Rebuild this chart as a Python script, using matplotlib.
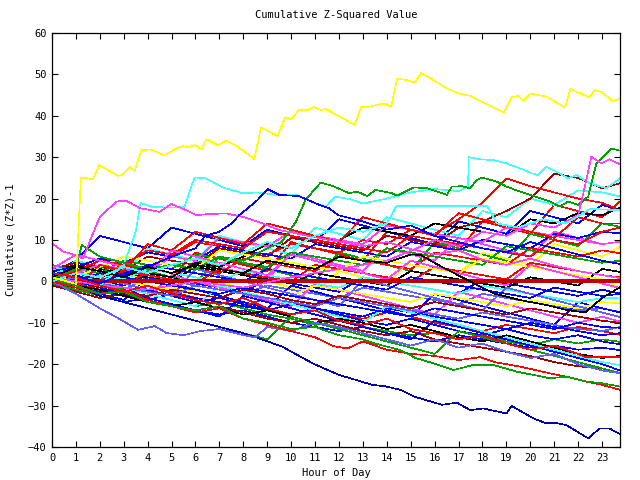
import matplotlib
matplotlib.use("Agg")
import matplotlib.pyplot as plt
import numpy as np

# hourly sample positions for the bulk of the runs
hours = [0, 1, 2, 3, 4, 5, 6, 7, 8, 9, 10, 11, 12, 13, 14, 15, 16, 17, 18, 19,
         20, 21, 22, 23, 23.75]

yellow_top = [(0, 1.0), (0.5, 0.2), (1.0, -0.6), (1.21, 25.1), (1.72, 24.7), (1.97, 28.1),
              (2.76, 25.5), (2.94, 25.7), (3.25, 27.6), (3.46, 26.7), (3.74, 31.7), (4.08, 31.9),
              (4.71, 30.5), (5.2, 32.1), (5.47, 32.7), (5.65, 32.4), (6.0, 32.9), (6.24, 31.9),
              (6.45, 34.3), (6.93, 32.9), (7.28, 34.0), (7.7, 32.8), (8.46, 29.6), (8.74, 37.2),
              (9.43, 35.1), (9.75, 39.6), (10.0, 39.2), (10.33, 41.4), (10.68, 41.4), (10.96, 42.1),
              (11.25, 41.4), (11.46, 41.6), (11.9, 40.2), (12.65, 37.8), (12.93, 42.2), (13.2, 42.1),
              (13.88, 43.0), (14.18, 42.2), (14.43, 48.9), (14.78, 48.7), (15.17, 48.0), (15.43, 50.3),
              (15.96, 48.6), (16.51, 46.6), (17.0, 45.4), (17.5, 44.8), (17.88, 43.6), (18.32, 42.4),
              (18.9, 40.8), (19.22, 44.5), (19.5, 44.8), (19.71, 43.6), (19.99, 45.4), (20.68, 44.6),
              (21.45, 42.0), (21.68, 46.5), (22.24, 45.0), (22.45, 44.4), (22.69, 46.2), (23.0, 45.7),
              (23.43, 43.6), (23.75, 44.2)]
blue_bottom = [(0, 0.5), (1, -1), (2, -3.5), (3, -5), (4, -6.5), (5, -8), (6, -9.5), (7, -11),
               (8, -12.5), (8.53, -13.5), (9.64, -15.8), (10.9, -19.8), (11.45, -21.2), (12.0, -22.6),
               (12.42, -23.3), (13.39, -25.0), (13.9, -25.3), (14.57, -26.2), (15.13, -27.8),
               (16.3, -29.8), (16.93, -29.3), (17.49, -31.1), (18.04, -30.7), (19.0, -31.9),
               (19.22, -30.1), (20.13, -33.1), (20.68, -34.3), (21.0, -34.1), (21.5, -34.7),
               (22.42, -37.9), (22.9, -35.5), (23.3, -35.5), (23.75, -36.9)]
light_blue_low = [(0, 0), (1, -3), (2, -6.5), (2.8, -9), (3.6, -11.7), (4.3, -10.8), (4.8, -12.5),
                  (5.5, -13), (6.2, -12), (7, -11.5), (8, -13), (8.5, -13.5), (9, -11), (10, -12),
                  (11, -10), (12, -11), (13, -12.5), (14, -14), (15, -15.5), (16, -14), (17, -16),
                  (18, -15), (19, -17), (20, -18.5), (21, -17.5), (22, -20), (23, -21.5), (23.75, -22.2)]
cyan_upper = [(0, 1), (1, 0), (2, -1), (3, 4), (3.5, 12), (3.7, 18.9), (4.2, 18.0), (5.0, 17.8),
              (5.54, 18.0), (5.96, 25.1), (6.44, 24.9), (7.14, 22.7), (7.97, 21.3), (8.6, 21.5),
              (9.36, 20.9), (10.2, 20.9), (10.68, 19.7), (11.0, 18.9), (11.46, 18.1), (11.86, 20.5),
              (12.5, 19.8), (13, 18.8), (14, 20.0), (15, 21.5), (16, 22.3), (17, 21.8), (17.4, 22.9),
              (17.42, 30.0), (17.9, 29.5), (18.46, 29.3), (19.0, 28.5), (19.57, 27.3), (20.06, 26.1),
              (20.33, 25.7), (20.68, 27.7), (21.1, 26.5), (21.58, 24.9), (21.93, 25.7), (22.49, 23.7),
              (23.18, 22.5), (23.75, 24.9)]
green_upper = [(0, 0.5), (1.0, 3), (1.24, 8.8), (2, 6), (3, 4.5), (4, 3), (5, 4), (6, 3), (7, 6),
               (8, 5), (9, 8), (9.6, 9.5), (10.2, 14.4), (10.6, 19.7), (11.24, 23.9), (11.8, 22.9),
               (12.42, 21.3), (12.76, 21.7), (13.18, 20.6), (13.53, 22.1), (14.22, 21.3), (14.43, 20.7),
               (15.13, 22.7), (15.68, 22.5), (16.1, 21.7), (16.51, 20.9), (16.72, 22.9), (17.14, 23.0),
               (17.49, 22.5), (17.76, 24.5), (17.97, 25.1), (18.6, 24.1), (19.0, 22.9), (19.57, 21.7),
               (20.4, 20.1), (20.82, 19.3), (21.24, 18.1), (21.58, 19.3), (22.0, 18.5), (22.42, 20.5),
               (22.76, 28.5), (23.39, 32.1), (23.75, 31.6)]
magenta_left = [(0, 9.2), (0.47, 7.2), (0.96, 6.4), (1.3, 5.5), (1.6, 10), (2.0, 15.6), (2.7, 19.3),
                (3.1, 19.5), (3.67, 17.7), (4.5, 16.8), (4.99, 18.7), (5.61, 17.2), (6.03, 16.0),
                (6.58, 16.3), (7.28, 16.4), (7.97, 15.6), (8.8, 14.0), (9.5, 12.4), (10.05, 11.8),
                (10.89, 10.8), (11.58, 10.0), (12, 9.6), (13, 8.5), (14, 9.5), (15, 7.8), (16, 6.5),
                (17, 7.5), (18, 5.2), (19, 4.0), (20, 5.5), (21, 3.8), (22, 2.5), (23, 1.5), (23.75, 0.8)]
magenta_right = [(0, 1), (2, -1), (4, -2), (6, 0), (8, -1.5), (10, 1), (12, 3), (14, 5), (15.26, 8),
                 (16, 10), (17, 8.5), (18, 12), (19, 11), (20, 14), (21, 13), (22, 16), (22.28, 22.9),
                 (22.55, 30.1), (22.97, 28.5), (23.3, 29.5), (23.75, 28.3)]
blue_upper = [(0, 0.5), (1, 1.5), (2, -0.5), (3, 2), (4, 3.5), (5, 6), (6, 8), (6.4, 11), (7, 12),
              (7.5, 14), (7.83, 16), (8.25, 18.0), (8.6, 19.7), (9.01, 22.3), (9.5, 20.9), (10.33, 20.6),
              (11.17, 18.5), (11.58, 17.7), (11.97, 16.0), (13, 14.5), (14, 12.5), (15, 13.5), (16, 11),
              (17, 9.5), (18, 8), (19, 7), (20, 9.5), (21, 8), (22, 6.5), (23, 5), (23.75, 4.2)]
zero_run = [(0, 0), (23.75, 0)]
red_bottom = [(0, 0), (1, -1.5), (2, -3), (3, -2), (4, -4.5), (5, -6), (6, -7.5), (7, -6.5), (8, -9),
              (9, -10.5), (10, -12), (11, -13.5), (11.8, -15.7), (12.35, -16.2), (13, -14.5), (14, -16.5),
              (15, -17.5), (16, -18), (17, -19), (17.9, -18.3), (18.5, -19.5), (19.5, -20.5),
              (20.82, -22.2), (21.5, -23), (22.35, -24.2), (23, -25), (23.75, -26.2)]
green_lower = [(0, 0.5), (1, -1), (2, -3), (3, -2.5), (4, -5), (5, -6), (6, -7), (7, -6), (8, -9),
               (9, -10), (10, -11.5), (11, -11), (12, -13), (13, -14), (13.5, -15), (14.57, -16.6),
               (15.2, -18.5), (15.96, -19.8), (16.8, -21.4), (17.6, -20.2), (18.46, -20.2), (19.43, -21.8),
               (20.13, -22.6), (20.82, -23.4), (21.5, -23.0), (22.35, -24.2), (23.0, -24.6), (23.75, -25.4)]
black_run = [(0, 1), (1, 3.5), (2, 2.5), (3, 1), (4, 3.5), (5, 2), (6, 4), (7, 3), (8, 2), (9, 5),
             (10, 4), (11, 3), (12, 6), (13, 5), (14, 4.5), (15, 6.5), (15.4, 6.4), (16.3, 3.5),
             (17.35, 0.4), (18.46, -2.9), (19.57, -4.5), (20.68, -5.7), (21.5, -6.9), (22.3, -7.5),
             (23, -4), (23.75, -1.4)]
cyan_flat = [(0, 0), (1, 2), (2, 1), (3, 3.5), (4, 2), (5, 4), (6, 5.5), (7, 4), (8, 7), (9, 9.5),
             (10, 8), (11, 11), (12, 13), (13, 12), (14, 14), (14.4, 18.2), (18.2, 18.2), (18.6, 14),
             (19.5, 13), (20.5, 15), (21.5, 14), (22.5, 17.5), (23.75, 17.2)]
red_flat_end = [(0, 2), (1, 1), (2, -1), (3, -2.5), (4, -1), (5, -3), (6, -4.5), (7, -5.5), (8, -4),
                (9, -6.5), (10, -8), (11, -7), (12, -9.5), (13, -10.5), (14, -9), (15, -11.5),
                (16, -12.5), (17, -14), (18, -13), (19, -15), (20, -16.5), (21, -15.5), (22, -17.5),
                (22.3, -18.3), (23.75, -18.3)]

# the rest of the runs, one value per hour
bulk_runs = [
    [1.5, 0.0, 5.5, 4.0, 2.5, 1.0, 7.0, 5.5, 4.0, 2.5, 9.5, 8.0, 6.5, 5.0, 12.0, 10.5, 9.0, 7.5, 14.5, 13.0, 11.5, 18.5, 17.0, 15.5, 19.3],
    [0.5, -1.0, -2.5, 4.0, 2.5, 1.0, -0.5, 6.0, 4.5, 3.0, 1.5, 0.0, 7.0, 5.5, 4.0, 2.5, 9.5, 8.0, 6.5, 5.0, 11.5, 10.0, 8.5, 14.0, 13.2],
    [2.0, 5.0, 11.0, 9.5, 8.0, 13.0, 11.5, 10.0, 8.5, 12.5, 11.0, 9.5, 15.0, 13.5, 12.0, 10.5, 9.0, 14.5, 13.0, 11.5, 17.0, 15.5, 14.0, 18.5, 17.2],
    [0.0, -1.5, -3.0, 3.0, 1.5, 0.0, 5.0, 3.5, 2.0, 0.5, 7.0, 5.5, 4.0, 2.5, 8.0, 6.5, 5.0, 10.5, 9.0, 7.5, 6.0, 12.0, 10.5, 9.0, 9.6],
    [1.0, 5.0, 3.5, 2.0, 8.0, 6.5, 5.0, 11.0, 9.5, 8.0, 6.5, 13.0, 11.5, 10.0, 15.5, 14.0, 12.5, 11.0, 17.0, 15.5, 20.0, 18.5, 22.0, 21.5, 20.5],
    [0.5, -1.0, -2.5, 2.0, 0.5, -1.0, -2.5, 3.0, 1.5, 0.0, -1.5, -3.0, 2.5, 1.0, -0.5, 5.0, 3.5, 2.0, 7.0, 5.5, 4.0, 9.0, 7.5, 6.0, 8.4],
    [2.0, 1.0, 0.0, -1.0, 1.5, 0.5, -0.5, -1.5, -2.5, 0.5, -0.5, -1.5, -2.5, 1.0, 0.0, -1.0, -2.0, -3.0, 0.5, -0.5, -1.5, -2.5, -3.5, -2.0, -2.9],
    [3.0, 4.5, 3.5, 2.5, 6.0, 5.0, 4.0, 8.0, 7.0, 6.0, 10.5, 9.5, 8.5, 7.5, 11.0, 10.0, 9.0, 13.0, 14.5, 17.0, 20.0, 26.0, 25.0, 22.5, 23.7],
    [0.0, 2.5, 1.5, 4.0, 3.0, 6.0, 9.5, 8.5, 7.5, 6.5, 9.0, 8.0, 7.0, 10.0, 9.0, 12.5, 11.5, 15.0, 19.0, 24.9, 23.0, 21.5, 20.0, 19.0, 17.2],
    [1.0, 0.0, -1.0, -2.0, 1.0, 0.0, -1.0, -2.0, -3.0, -1.0, -2.0, -3.0, -4.0, -1.5, -2.5, -3.5, -4.5, -5.5, -3.0, -4.0, -5.0, -6.0, -7.0, -6.5, -7.4],
    [2.5, 4.0, 3.0, 2.0, 1.0, 0.0, 3.5, 2.5, 1.5, 0.5, -0.5, 2.0, 1.0, 0.0, -1.0, 2.5, 1.5, 0.5, -0.5, -1.5, 1.0, 0.0, -1.0, 3.0, 2.3],
    [0.0, -1.5, -3.0, -4.5, 1.0, -0.5, -2.0, -3.5, -5.0, -6.5, -1.0, -2.5, -4.0, -5.5, -7.0, -8.5, -3.0, -4.5, -6.0, -7.5, -9.0, -10.5, -5.0, -6.5, -7.5],
    [1.0, -0.5, -2.0, -3.5, -1.0, -2.5, -4.0, -5.0, -6.0, -4.0, -5.0, -6.5, -8.0, -9.0, -7.5, -8.5, -10.0, -11.0, -12.0, -10.5, -11.5, -12.5, -11.0, -12.0, -12.9],
    [0.5, -1.0, -2.5, -1.5, -3.0, -4.5, -6.0, -5.0, -6.5, -8.0, -9.0, -10.5, -9.5, -11.0, -12.0, -13.0, -12.5, -14.0, -13.0, -14.5, -15.5, -14.0, -15.0, -14.0, -14.6],
    [-0.5, -2.0, -3.5, -5.0, -4.0, -5.5, -7.0, -8.0, -7.0, -8.5, -10.0, -11.0, -12.0, -11.0, -12.5, -13.5, -14.5, -13.0, -14.0, -15.0, -16.0, -15.5, -16.5, -16.0, -16.6],
    [2.0, 0.5, -1.0, -2.5, -4.0, 1.5, 0.0, -1.5, -3.0, -4.5, -6.0, -0.5, -2.0, -3.5, -5.0, -6.5, -8.0, -2.5, -4.0, -5.5, -7.0, -8.5, -10.0, -8.5, -9.7],
    [3.5, 2.5, 1.5, 0.5, 3.0, 2.0, 1.0, 0.0, 2.5, 1.5, 0.5, -0.5, -1.5, 1.0, 0.0, -1.0, -2.0, -3.0, -1.0, -2.0, -3.0, -4.0, -5.0, -4.0, -4.1],
    [0.0, 2.0, 1.0, 0.0, -1.0, -2.0, 0.5, -0.5, -1.5, -2.5, -3.5, -1.0, -2.0, -3.0, -4.0, -5.0, -3.0, -4.0, -5.0, -6.0, -4.5, -5.5, -6.5, -5.0, -5.3],
    [1.5, 3.5, 5.5, 4.5, 7.0, 6.0, 5.0, 8.5, 7.5, 6.5, 5.5, 9.0, 8.0, 7.0, 6.0, 9.5, 8.5, 7.5, 10.0, 9.0, 8.0, 11.5, 10.5, 12.0, 11.6],
    [-1.0, -2.5, -4.0, -3.0, -4.5, -6.0, -7.0, -6.0, -7.5, -9.0, -10.0, -9.0, -10.5, -12.0, -13.0, -12.0, -14.0, -15.0, -16.0, -17.0, -18.0, -19.5, -20.5, -21.0, -22.2],
    [0.5, 1.5, 0.5, -0.5, 2.0, 4.0, 3.0, 2.0, 5.5, 4.5, 3.5, 2.5, 6.0, 5.0, 4.0, 3.0, 7.0, 6.0, 5.0, 4.0, 8.0, 7.0, 6.0, 7.5, 6.8],
    [4.0, 2.5, 1.0, -0.5, -2.0, -3.5, 3.0, 1.5, 0.0, -1.5, -3.0, -4.5, -6.0, 0.5, -1.0, -2.5, -4.0, -5.5, -7.0, -1.5, -3.0, -4.5, -6.0, -7.5, -8.6],
    [0.0, -1.0, 1.0, 3.0, 2.0, 1.0, 4.5, 3.5, 6.0, 9.0, 8.0, 11.0, 10.0, 13.0, 12.0, 11.0, 14.0, 13.0, 12.0, 11.0, 15.0, 14.0, 16.5, 16.0, 17.8],
    [1.0, 0.0, -1.5, -3.0, -2.0, -3.5, -5.0, -4.0, -5.5, -7.0, -8.0, -6.5, -8.0, -9.5, -10.5, -9.0, -10.5, -12.0, -13.0, -11.5, -13.0, -14.0, -13.0, -14.5, -15.2],
    [2.0, 1.0, 0.0, 2.5, 1.5, 0.5, -0.5, 3.0, 2.0, 1.0, 0.0, 4.0, 3.0, 2.0, 1.0, 0.0, 3.5, 2.5, 1.5, 0.5, 4.5, 3.5, 2.5, 1.5, 1.0],
    [0.5, 3.0, 2.0, 5.0, 4.0, 3.0, 6.5, 5.5, 4.5, 3.5, 7.0, 6.0, 5.0, 4.0, 8.0, 7.0, 6.0, 5.0, 4.0, 8.5, 7.5, 6.5, 5.5, 4.5, 5.0],
    [-0.5, -1.5, -2.5, -3.5, -4.5, -3.0, -4.0, -5.0, -6.0, -7.0, -5.5, -6.5, -7.5, -8.5, -6.5, -7.5, -8.5, -9.5, -10.5, -11.5, -10.0, -11.0, -12.0, -13.0, -12.5],
    [1.0, 2.0, 4.0, 3.0, 2.0, 6.0, 5.0, 10.5, 9.5, 8.5, 12.0, 11.0, 10.0, 9.0, 13.5, 12.5, 11.5, 10.5, 9.5, 13.0, 12.0, 11.0, 10.0, 9.0, 9.6],
    [3.0, 1.5, 0.0, -1.5, -3.0, -4.5, -6.0, -1.0, -2.5, -4.0, -5.5, -7.0, -8.5, -10.0, -6.0, -7.5, -9.0, -10.5, -12.0, -13.5, -15.0, -16.5, -18.0, -19.5, -20.2],
    [0.0, 1.0, 3.5, 6.0, 5.0, 4.0, 3.0, 7.5, 6.5, 5.5, 4.5, 3.5, 2.5, 6.0, 5.0, 4.0, 3.0, 2.0, 5.5, 4.5, 3.5, 2.5, 1.5, 0.5, -1.4],
    [2.0, 0.5, -1.0, -2.5, -4.0, -5.5, -7.0, -8.5, -3.5, -5.0, -6.5, -8.0, -9.5, -11.0, -12.5, -14.0, -9.5, -11.0, -12.5, -14.0, -15.5, -17.0, -18.5, -20.0, -21.5],
    [-1.0, -2.0, -1.0, -2.5, -3.5, -2.0, -3.0, -4.0, -2.0, -3.0, -4.5, -5.5, -3.5, -4.5, -5.5, -6.5, -5.0, -6.0, -7.0, -8.0, -6.5, -7.5, -8.5, -9.5, -10.0],
    [0.5, 2.5, 5.0, 4.0, 7.5, 6.5, 10.0, 9.0, 8.0, 12.0, 11.0, 10.0, 9.0, 8.0, 7.0, 11.0, 10.0, 9.0, 8.0, 7.0, 6.0, 10.0, 9.0, 12.0, 13.0],
    [1.5, 0.5, -0.5, -1.5, -2.5, -3.5, -1.0, -2.0, -3.0, -4.0, -5.0, -6.0, -4.0, -5.0, -6.0, -7.0, -8.0, -9.0, -7.5, -8.5, -9.5, -10.5, -11.5, -12.0, -11.0],
    [0.0, -1.0, -2.0, -3.5, -5.0, -6.0, -5.0, -6.5, -8.0, -7.0, -8.5, -10.0, -9.0, -10.0, -11.5, -10.5, -12.0, -13.5, -14.5, -13.0, -14.5, -16.0, -17.5, -18.5, -18.0],
    [2.5, 3.5, 2.5, 1.5, 4.0, 3.0, 2.0, 1.0, 0.0, 3.0, 2.0, 1.0, 0.0, -1.0, -2.0, 1.0, 0.0, -1.0, -2.0, -3.0, -4.0, -1.5, -2.5, -3.5, -3.0],
    [0.0, -1.5, 4.0, 2.5, 9.0, 7.5, 12.0, 10.5, 9.0, 14.0, 12.5, 11.0, 9.5, 15.5, 14.0, 12.5, 11.0, 16.5, 15.0, 13.5, 12.0, 10.5, 15.5, 14.0, 14.0],
    [-0.5, -2.0, -3.5, -5.0, -6.5, -8.0, -9.5, -11.0, -12.5, -14.0, -8.5, -10.0, -11.5, -13.0, -14.5, -16.0, -17.5, -12.0, -13.5, -15.0, -16.5, -18.0, -19.5, -21.0, -22.1],
    [1.0, 0.0, 2.0, 1.0, 0.0, -1.0, -2.0, -3.0, -1.5, -2.5, -3.5, -4.5, -5.5, -6.5, -7.5, -8.5, -6.5, -7.5, -8.5, -9.5, -10.5, -11.5, -10.0, -11.0, -11.2],
    [3.0, 6.5, 5.0, 3.5, 2.0, 7.5, 6.0, 4.5, 3.0, 1.5, 6.5, 5.0, 3.5, 2.0, 0.5, 5.0, 3.5, 2.0, 0.5, -1.0, 4.0, 2.5, 1.0, -0.5, -1.6],
]

# gnuplot-ish line colours
bulk_colors = ['#ff0000', '#00a000', '#0000ff', '#ff40ff', '#40ffff', '#ffff00',
               '#0000ff', '#a00000', '#ff0000', '#6060ff', '#000000', '#0000ff']
special_runs = [
    (zero_run, '#c00000', 1.5),
    (blue_bottom, '#0000b0', 0.45),
    (light_blue_low, '#6060ff', 0.45),
    (cyan_upper, '#40ffff', 0.45),
    (green_upper, '#00a000', 0.45),
    (magenta_left, '#ff40ff', 0.45),
    (magenta_right, '#ff40ff', 0.45),
    (blue_upper, '#0000ff', 0.45),
    (red_bottom, '#ff0000', 0.45),
    (green_lower, '#00a000', 0.45),
    (black_run, '#000000', 0.45),
    (cyan_flat, '#40ffff', 0.45),
    (red_flat_end, '#ff0000', 0.45),
    (yellow_top, '#ffff00', 0.45),
]

plt.rcParams['font.family'] = 'DejaVu Sans Mono'
plt.rcParams['font.size'] = 7.5

fig = plt.figure(figsize=(6.4, 4.8), dpi=100)
ax = fig.add_axes([52 / 640, 33 / 480, 568 / 640, 414 / 480])

for i, run in enumerate(bulk_runs):
    ax.plot(hours, run, color=bulk_colors[i % len(bulk_colors)], lw=0.45, antialiased=False)

for pts, col, lw in special_runs:
    xs, ys = zip(*pts)
    ax.plot(xs, ys, color=col, lw=lw, antialiased=False)

ax.set_xlim(0, 23.75)
ax.set_ylim(-40, 60)
ax.set_xticks(np.arange(0, 24))
ax.set_yticks(np.arange(-40, 61, 10))
ax.tick_params(direction='in', length=4, width=0.8, top=True, right=True,
               labelsize=7.5, pad=4)
for s in ax.spines.values():
    s.set_linewidth(0.9)

ax.set_title('Cumulative Z-Squared Value', fontsize=7.5, pad=11)
ax.set_xlabel('Hour of Day', fontsize=7.5, labelpad=4)
ax.set_ylabel('Cumulative (Z*Z)-1', fontsize=7.5, labelpad=9)

fig.savefig('out.png', dpi=100)
